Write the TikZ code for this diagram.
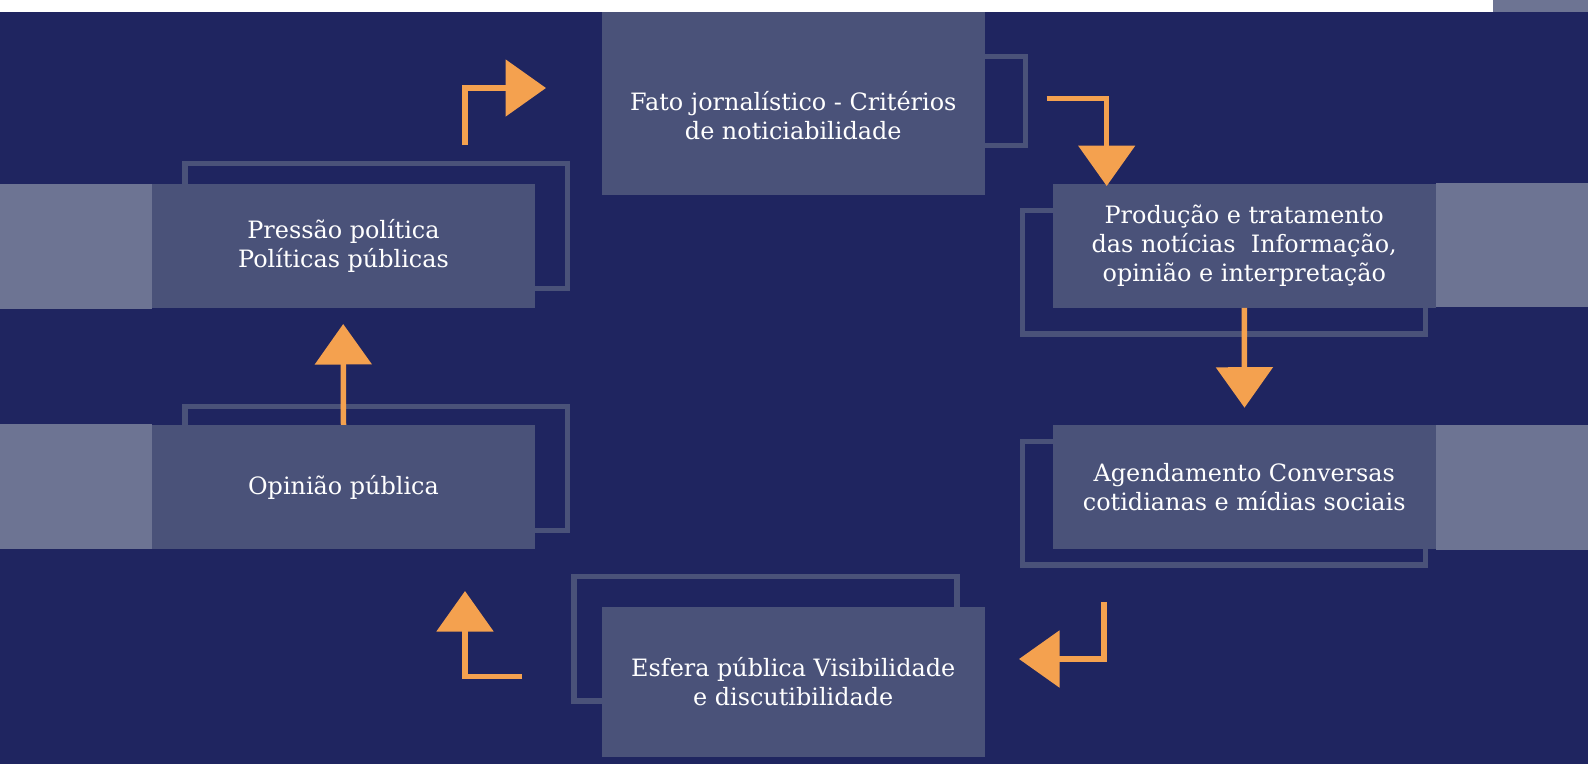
\documentclass[tikz,border=0pt]{standalone}
\usepackage{fontspec}
\setmainfont{DejaVu Serif}
\usetikzlibrary{arrows.meta,positioning,calc}
\definecolor{cycNavy}{HTML}{1F2560}
\definecolor{cycBox}{HTML}{4A5279}
\definecolor{cycSide}{HTML}{6D7493}
\definecolor{cycOrange}{HTML}{F4A14F}
\tikzset{
  stepbox/.style={fill=cycBox, text=white, align=center, inner sep=0pt,
                  minimum width=383pt, minimum height=124pt,
                  font=\fontsize{23.9}{29}\selectfont},
  steptext/.style={text=white, align=center, inner sep=0pt,
                   font=\fontsize{23.9}{29}\selectfont},
  ghostframe/.style={draw=cycBox, line width=5.5pt},
  sidebar/.style={fill=cycSide},
  flowarr/.style={draw=cycOrange, line width=5.5pt, line join=miter,
                  -{Triangle[length=40.5pt,width=56pt]}},
}
\begin{document}
\begin{tikzpicture}[x=1pt,y=-1pt]
  \useasboundingbox (0,0) rectangle (1588,764);
  \fill[cycNavy] (0,0) rectangle (1588,764);
  % frames behind the boxes
  \draw[ghostframe] (643,56.7) rectangle (1025.5,145.5);
  \draw[ghostframe] (185,163.5) rectangle (567.5,288.5);
  \draw[ghostframe] (185,406.5) rectangle (567.5,530.7);
  \draw[ghostframe] (1022.7,210.3) rectangle (1425.3,334);
  \draw[ghostframe] (1022.7,441.7) rectangle (1425.3,565);
  \draw[ghostframe] (574.2,576.5) rectangle (957.2,701);
  % side bars
  \fill[sidebar] (0,183.7) rectangle (152,308.7);
  \fill[sidebar] (0,423.7) rectangle (152,548.7);
  \fill[sidebar] (1435.6,182.7) rectangle (1588,307.3);
  \fill[sidebar] (1435.6,425) rectangle (1588,550);
  % boxes
  \node[stepbox, minimum height=183pt] (fato) at (793.25,103.5) {};
  \node[steptext] (fatoTxt) at ([yshift=-12pt]fato.center)
    {Fato jornalístico - Critérios\\de noticiabilidade};
  \node[stepbox] (prod) at (1244.25,245.6)
    {Produção e tratamento\\das notícias~ Informação,\\opinião e interpretação};
  \node[stepbox] (agen) at (1244.25,487)
    {Agendamento Conversas\\cotidianas e mídias sociais};
  \node[stepbox, minimum height=150pt] (esfe) at (793.25,682)
    {Esfera pública Visibilidade\\e discutibilidade};
  \node[stepbox] (opin) at (343.5,487) {Opinião pública};
  \node[stepbox] (pres) at (343.5,246) {Pressão política\\Políticas públicas};
  % arrows
  \coordinate (a1s) at (465,145);      \coordinate (a1e) at (546,88);
  \coordinate (a2s) at (1046.7,98.5);  \coordinate (a2e) at (1106.7,186);
  \coordinate (a3e) at (1244.5,407.7);
  \coordinate (a4s) at (1104,602.3);   \coordinate (a4e) at (1019,659);
  \coordinate (a5s) at (522,676.7);    \coordinate (a5e) at (465,591);
  \coordinate (a6e) at (343.2,324);
  \draw[flowarr] (a1s) |- (a1e);
  \draw[flowarr] (a2s) -| (a2e);
  \draw[flowarr] (prod.south) -- (a3e);
  \draw[flowarr] (a4s) |- (a4e);
  \draw[flowarr] (a5s) -| (a5e);
  \draw[flowarr] (opin.north) -- (a6e);
  % top strip
  \fill[white] (0,0) rectangle (1493,12);
  \fill[sidebar] (1493,0) rectangle (1588,12);
\end{tikzpicture}
\end{document}
